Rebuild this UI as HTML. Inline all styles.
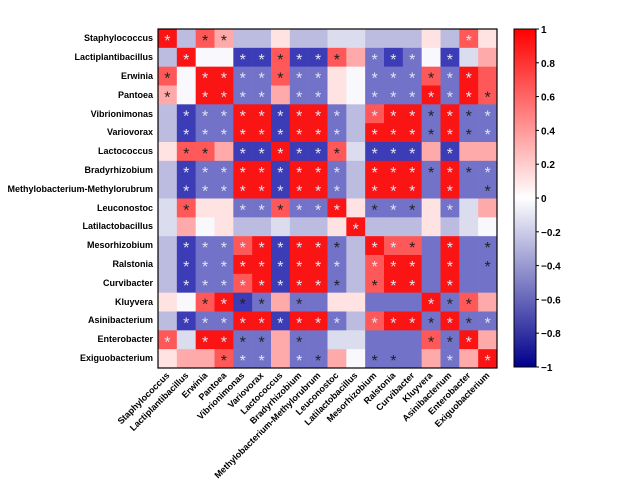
<!DOCTYPE html>
<html><head><meta charset="utf-8"><style>
html,body{margin:0;padding:0;background:#fff;}
svg{display:block;font-family:"Liberation Sans",Arial,sans-serif;font-weight:bold;}
</style></head><body>
<svg id="s" width="639" height="504" viewBox="0 0 639 504" xmlns="http://www.w3.org/2000/svg">
<defs><linearGradient id="cb" x1="0" y1="0" x2="0" y2="1">
<stop offset="0" stop-color="#ff0000"/><stop offset="0.5" stop-color="#ffffff"/><stop offset="1" stop-color="#00008c"/></linearGradient></defs>
<g id="cells"></g>
<rect x="158" y="29" width="339" height="339" fill="none" stroke="#000" stroke-width="1.2"/>
<g font-size="9" text-anchor="end">
<text x="153" y="41">Staphylococcus</text>
<text x="153" y="60">Lactiplantibacillus</text>
<text x="153" y="79">Erwinia</text>
<text x="153" y="98">Pantoea</text>
<text x="153" y="117">Vibrionimonas</text>
<text x="153" y="135">Variovorax</text>
<text x="153" y="154">Lactococcus</text>
<text x="153" y="173">Bradyrhizobium</text>
<text x="153" y="192">Methylobacterium-Methylorubrum</text>
<text x="153" y="211">Leuconostoc</text>
<text x="153" y="229">Latilactobacillus</text>
<text x="153" y="248">Mesorhizobium</text>
<text x="153" y="267">Ralstonia</text>
<text x="153" y="286">Curvibacter</text>
<text x="153" y="305">Kluyvera</text>
<text x="153" y="323">Asinibacterium</text>
<text x="153" y="342">Enterobacter</text>
<text x="153" y="361">Exiguobacterium</text>
</g>
<g font-size="9" text-anchor="end">
<text transform="translate(170,376) rotate(-45)">Staphylococcus</text>
<text transform="translate(189,376) rotate(-45)">Lactiplantibacillus</text>
<text transform="translate(208,376) rotate(-45)">Erwinia</text>
<text transform="translate(227,376) rotate(-45)">Pantoea</text>
<text transform="translate(245,376) rotate(-45)">Vibrionimonas</text>
<text transform="translate(264,376) rotate(-45)">Variovorax</text>
<text transform="translate(283,376) rotate(-45)">Lactococcus</text>
<text transform="translate(302,376) rotate(-45)">Bradyrhizobium</text>
<text transform="translate(321,376) rotate(-45)">Methylobacterium-Methylorubrum</text>
<text transform="translate(339,376) rotate(-45)">Leuconostoc</text>
<text transform="translate(358,376) rotate(-45)">Latilactobacillus</text>
<text transform="translate(377,376) rotate(-45)">Mesorhizobium</text>
<text transform="translate(396,376) rotate(-45)">Ralstonia</text>
<text transform="translate(415,376) rotate(-45)">Curvibacter</text>
<text transform="translate(433,376) rotate(-45)">Kluyvera</text>
<text transform="translate(452,376) rotate(-45)">Asinibacterium</text>
<text transform="translate(471,376) rotate(-45)">Enterobacter</text>
<text transform="translate(490,376) rotate(-45)">Exiguobacterium</text>
</g>
<rect x="514" y="29" width="22" height="338" fill="url(#cb)" stroke="#000" stroke-width="1"/>
<g stroke="#000" stroke-width="1">
<line x1="536" y1="29" x2="539" y2="29"/><line x1="536" y1="62.8" x2="539" y2="62.8"/><line x1="536" y1="96.6" x2="539" y2="96.6"/><line x1="536" y1="130.4" x2="539" y2="130.4"/><line x1="536" y1="164.2" x2="539" y2="164.2"/><line x1="536" y1="198" x2="539" y2="198"/><line x1="536" y1="231.8" x2="539" y2="231.8"/><line x1="536" y1="265.6" x2="539" y2="265.6"/><line x1="536" y1="299.4" x2="539" y2="299.4"/><line x1="536" y1="333.2" x2="539" y2="333.2"/><line x1="536" y1="367" x2="539" y2="367"/>
</g>
<g font-size="10">
<text x="541" y="33">1</text><text x="541" y="66.8">0.8</text><text x="541" y="100.6">0.6</text><text x="541" y="134.4">0.4</text><text x="541" y="168.2">0.2</text><text x="541" y="202">0</text><text x="541" y="235.8">−0.2</text><text x="541" y="269.6">−0.4</text><text x="541" y="303.4">−0.6</text><text x="541" y="337.2">−0.8</text><text x="541" y="371">−1</text>
</g>
</svg>
<script>
var M=[
"R3w B1 R2k R1k B1 B1 R0 B1 B1 B0 B0 B1 B1 B1 R0 B1 R2w R0",
"B1 R3w W W B3w B3w R2k B3w B3w R2k R1 B2w B3w B2w W B3w B0 R1",
"R2k W R3w R3w B2w B2w R2k B2w B2w R0 W B2w B2w B2w R2k B2w R3w R2",
"R1k W R3w R3w B2w B2w R1 B2w B2w R0 W B2w B2w B2w R3w B2w R3w R2k",
"B1 B3w B2w B2w R3w R3w B3w R3w R3w B2w B1 R2w R3w R3w B2k R3w B2k B2w",
"B1 B3w B2w B2w R3w R3w B3w R3w R3w B2w B1 R3w R3w R3w B2k R3w B2k B2w",
"R0 R2k R2k R1 B3w B3w R3w B3w B3w R2k B0 B3w B3w B3w R1 B3w R1 R1",
"B1 B3w B2w B2w R3w R3w B3w R3w R3w B2w B1 R3w R3w R3w B2k R3w B2k B2w",
"B1 B3w B2w B2w R3w R3w B3w R3w R3w B2w B1 R3w R3w R3w B2 R3w B2 B2k",
"B0 R2k R0 R0 B2w B2w R2k B2w B2w R3w R0 B2k B2w B2k R0 B2w B0 R1",
"B0 R1 W R0 B1 B1 B0 B1 B1 R0 R3w B1 B1 B1 R0 B1 B0 W",
"B1 B3w B2w B2w R2w R3w B3w R3w R3w B2k B1 R3w R2w R2k B2 R3w B2 B2k",
"B1 B3w B2w B2w R3w R3w B3w R3w R3w B2w B1 R2w R3w R3w B2 R3w B2 B2k",
"B1 B3w B2w B2w R2w R3w B3w R3w R3w B2k B1 R2k R3w R3w B2 R3w B2 B2",
"R0 W R2k R3w B3k B2k R1 B2k B2 R0 R0 B2 B2 B2 R3w B2k R2k R1",
"B1 B3w B2w B2w R3w R3w B3w R3w R3w B2w B1 R2w R3w R3w B2k R3w B2k B2w",
"R2w B0 R3w R3w B2k B2k R1 B2k B2 B0 B0 B2 B2 B2 R2k B2k R3w R1",
"R0 R1 R1 R2k B2w B2w R1 B2w B2k R1 W B2k B2k B2 R1 B2w R1 R3w"];
var C={R3:"#fa1414",R2:"#ff5858",R1:"#ffaaaa",R0:"#ffe2e2",W:"#f8f8fd",B0:"#dcdcef",B1:"#bcbce0",B2:"#7272c8",B3:"#3c3cb6"};
var g=document.getElementById("cells"),h="",s=339/18;
for(var i=0;i<18;i++){var r=M[i].split(" ");for(var j=0;j<18;j++){var c=r[j],k=c.replace(/[wk]$/,""),st=c.slice(k.length);
var x=158+j*s,y=29+i*s;
h+='<rect x="'+x.toFixed(2)+'" y="'+y.toFixed(2)+'" width="'+(s+0.3).toFixed(2)+'" height="'+(s+0.3).toFixed(2)+'" fill="'+C[k]+'"/>';
if(st)h+='<text x="'+(x+s/2).toFixed(2)+'" y="'+(y+s/2+7.5).toFixed(2)+'" font-size="16" font-weight="normal" text-anchor="middle" fill="'+(st=="w"?"#e4e4f2":"#222")+'">*</text>';}}
g.innerHTML=h;
</script>
</body></html>
